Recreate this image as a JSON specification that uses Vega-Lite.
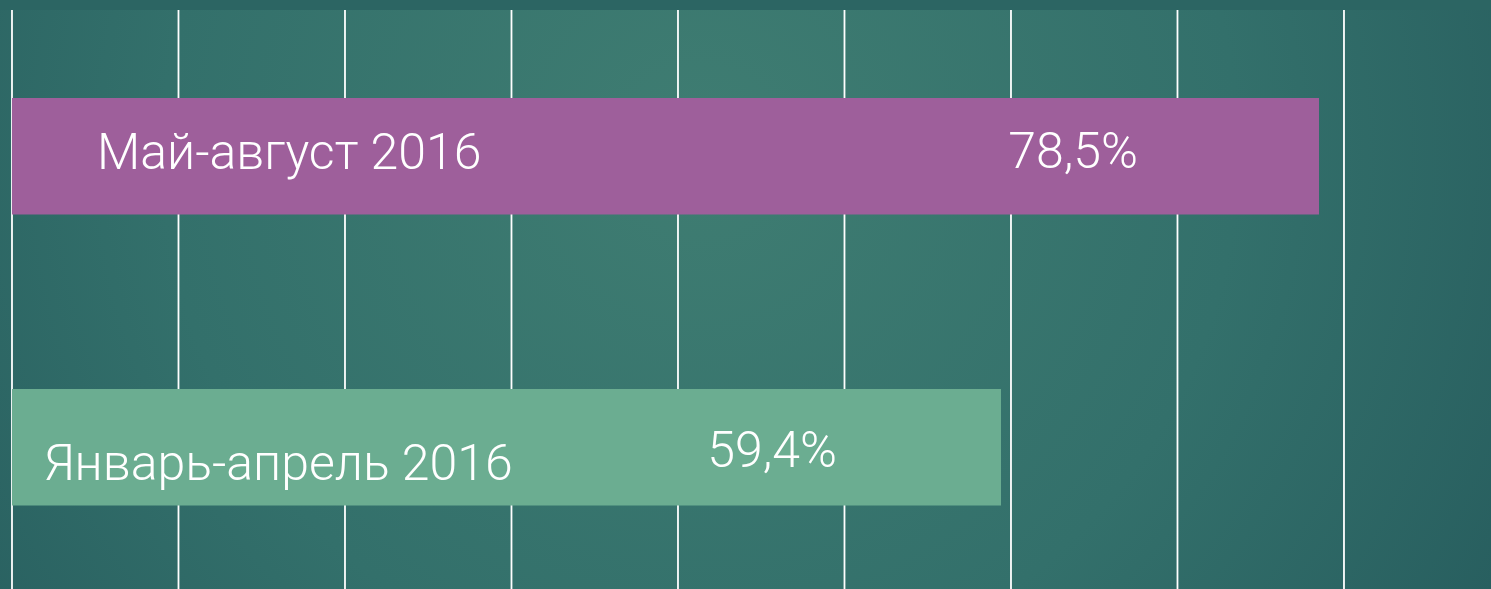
{
  "$schema": "https://vega.github.io/schema/vega-lite/v6.json",
  "width": 1491,
  "height": 579,
  "autosize": {"type": "none"},
  "padding": {"left": 0, "top": 10, "right": 0, "bottom": 0},
  "background": "#2C6563",
  "config": {"view": {"stroke": null}},
  "data": {"values": [
    {"period": "Май-август 2016", "value": 78.5, "label": "78,5%"},
    {"period": "Январь-апрель 2016", "value": 59.4, "label": "59,4%"}
  ]},
  "encoding": {
    "y": {"field": "period", "type": "nominal",
          "scale": {"domain": ["Май-август 2016", "Январь-апрель 2016"], "paddingInner": 0.6, "paddingOuter": 0.2948, "align": 0.513, "round": false}, "axis": null}
  },
  "layer": [
    {
      "data": {"values": [{"start": -0.72, "end": 88.83}]},
      "mark": {"type": "rect", "fill": {"gradient": "radial", "x1": 0.47, "y1": 0.4, "r1": 0, "x2": 0.47, "y2": 0.4, "r2": 0.72,
        "stops": [{"offset": 0, "color": "#3F7D72"}, {"offset": 0.5, "color": "#33706B"}, {"offset": 1, "color": "#23575A"}]}},
      "encoding": {"y": null, "x": {"field": "start", "type": "quantitative", "scale": {"domain": [-0.72, 88.83], "nice": false, "zero": false}, "axis": null}, "x2": {"field": "end"}}
    },
    {
      "data": {"values": [{"g": 0}, {"g": 10}, {"g": 20}, {"g": 30}, {"g": 40}, {"g": 50}, {"g": 60}, {"g": 70}, {"g": 80}]},
      "mark": {"type": "rule", "color": "#FFFFFF", "strokeWidth": 1.8},
      "encoding": {"y": null, "x": {"field": "g", "type": "quantitative"}}
    },
    {
      "mark": {"type": "bar"},
      "encoding": {
        "x": {"field": "value", "type": "quantitative"},
        "color": {"field": "period", "type": "nominal", "scale": {"domain": ["Май-август 2016", "Январь-апрель 2016"], "range": ["#9E5F9B", "#6BAD91"]}, "legend": null}
      }
    },
    {
      "transform": [{"filter": "datum.period == 'Май-август 2016'"}],
      "mark": {"type": "text", "align": "left", "baseline": "alphabetic", "dx": 85, "dy": 12.5, "font": "Roboto", "fontWeight": 300, "fontSize": 50, "color": "#FFFFFF"},
      "encoding": {"x": {"datum": 0, "type": "quantitative"}, "text": {"field": "period"}}
    },
    {
      "transform": [{"filter": "datum.period == 'Январь-апрель 2016'"}],
      "mark": {"type": "text", "align": "left", "baseline": "alphabetic", "dx": 32, "dy": 33, "font": "Roboto", "fontWeight": 300, "fontSize": 50, "color": "#FFFFFF"},
      "encoding": {"x": {"datum": 0, "type": "quantitative"}, "text": {"field": "period"}}
    },
    {
      "transform": [{"filter": "datum.period == 'Май-август 2016'"}],
      "mark": {"type": "text", "align": "right", "baseline": "alphabetic", "dx": -181, "dy": 12, "font": "Roboto", "fontWeight": 300, "fontSize": 50, "color": "#FFFFFF"},
      "encoding": {"x": {"field": "value", "type": "quantitative"}, "text": {"field": "label"}}
    },
    {
      "transform": [{"filter": "datum.period == 'Январь-апрель 2016'"}],
      "mark": {"type": "text", "align": "right", "baseline": "alphabetic", "dx": -164, "dy": 20, "font": "Roboto", "fontWeight": 300, "fontSize": 50, "color": "#FFFFFF"},
      "encoding": {"x": {"field": "value", "type": "quantitative"}, "text": {"field": "label"}}
    }
  ]
}
